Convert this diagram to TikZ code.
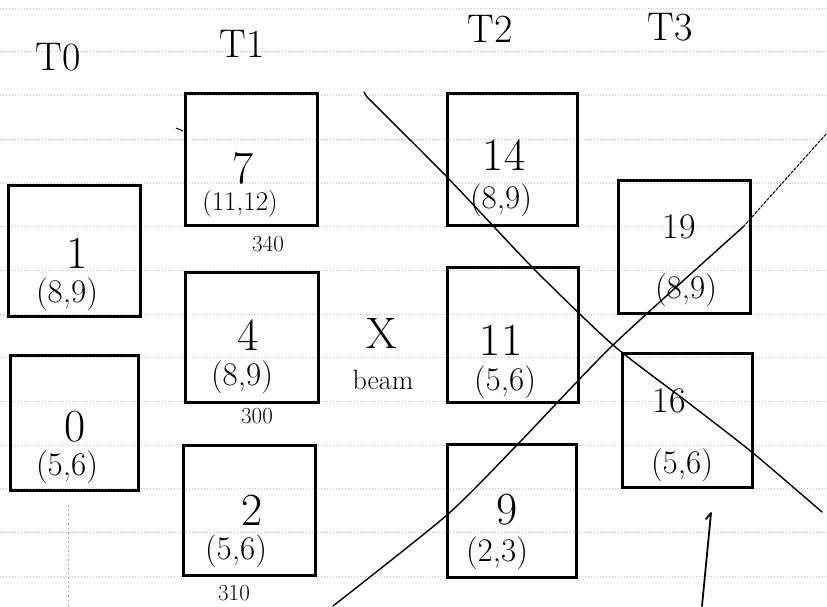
\documentclass[tikz,border=0pt]{standalone}
\begin{document}
\begin{tikzpicture}[x=1pt,y=-1pt,
  rule/.style={draw=black!25, line width=0.5pt, dash pattern=on 1.2pt off 1.8pt},
  cell/.style={draw, line width=3pt, inner sep=0pt},
  num/.style={inner sep=0pt, font=\fontsize{46}{46}\selectfont},
  pair/.style={inner sep=0pt, font=\fontsize{33}{33}\selectfont},
  colhead/.style={inner sep=0pt, font=\fontsize{40}{40}\selectfont},
  note/.style={inner sep=0pt, font=\fontsize{23}{23}\selectfont},
  stroke/.style={line width=1.4pt, line cap=round, line join=round}
]
\useasboundingbox (0,0) rectangle (827,606);
\fill[white] (0,0) rectangle (827,606);
% ruled paper
\foreach \k in {0,...,13} \draw[rule] (0,{8+43.7*\k}) -- (827,{8+43.7*\k});
\draw[black!40, line width=0.8pt, dash pattern=on 1.5pt off 3pt] (68,505) -- (68,606);

% column headings
\node[colhead] (t0) at (58,57) {T0};
\node[colhead] (t1) at (242,44) {T1};
\node[colhead] (t2) at (490,29) {T2};
\node[colhead] (t3) at (670,27) {T3};

% T0 column
\node[cell, minimum width=132pt, minimum height=131pt] (b1) at (74,250.5) {};
\node[num]  (n1) at (77,253) {1};
\node[pair] (p1) at (67,294) {(8,9)};
\node[cell, minimum width=128pt, minimum height=135pt] (b0) at (74,422.5) {};
\node[num]  (n0) at (75,427) {0};
\node[pair] (p0) at (67,467) {(5,6)};

% T1 column
\node[cell, minimum width=132pt, minimum height=132pt] (b7) at (251,159) {};
\node[num]  (n7) at (243,168) {7};
\node[pair, font=\fontsize{27}{27}\selectfont] (p7) at (240,204) {(11,12)};
\node[note] (s7) at (268,244) {340};
\draw[line width=1pt] (176,128) -- (183,131);
\node[cell, minimum width=133pt, minimum height=130pt] (b4) at (251.5,337) {};
\node[num]  (n4) at (248,335) {4};
\node[pair] (p4) at (242,377) {(8,9)};
\node[note] (s4) at (257,416) {300};
\node[cell, minimum width=132pt, minimum height=130pt] (b2) at (249,510) {};
\node[num]  (n2) at (252,510) {2};
\node[pair] (p2) at (236,551) {(5,6)};
\node[note] (s2) at (234,593) {310};

% X beam
\node[inner sep=0pt, font=\fontsize{44}{44}\selectfont] (xm) at (382,333) {X};
\node[inner sep=0pt, font=\fontsize{28}{28}\selectfont] (bm) at (383,380) {beam};

% T2 column
\node[cell, minimum width=130pt, minimum height=132pt] (b14) at (512,159) {};
\node[num]  (n14) at (504,155) {14};
\node[pair] (p14) at (501,200) {(8,9)};
\node[cell, minimum width=131pt, minimum height=135pt] (b11) at (512.5,334.5) {};
\node[num]  (n11) at (501,340) {11};
\node[pair] (p11) at (505,382) {(5,6)};
\node[cell, minimum width=129pt, minimum height=133pt] (b9) at (511.5,510.5) {};
\node[num]  (n9) at (507,510) {9};
\node[pair] (p9) at (497,553) {(2,3)};

% T3 column
\node[cell, minimum width=132pt, minimum height=133pt] (b19) at (684,246.5) {};
\node[num, font=\fontsize{36}{36}\selectfont]  (n19) at (679,227) {19};
\node[pair] (p19) at (686,290) {(8,9)};
\node[cell, minimum width=130pt, minimum height=134pt] (b16) at (687,420) {};
\node[num, font=\fontsize{36}{36}\selectfont]  (n16) at (669,401) {16};
\node[pair] (p16) at (682,465) {(5,6)};

% crossing strokes
\coordinate (c) at (613,345);
\coordinate (l1a) at (367,97);
\coordinate (l1b) at (822,512);
\coordinate (l2a) at (333,606);
\coordinate (l2b) at (827,133);
\draw[stroke] (364,92) -- (l1a);
\draw[stroke] plot[smooth, tension=0.4] coordinates {(l1a) (447,177) (533,268) (c) (690,404) (753,453) (l1b)};
\draw[stroke] plot[smooth, tension=0.4] coordinates {(l2a) (447,515) (517,445) (c) (743,227)};
\draw[stroke, line width=1pt, dash pattern=on 3pt off 1.5pt] (743,227) -- (l2b);

% vertical stroke at bottom right
\coordinate (v1) at (711,513);
\coordinate (v2) at (702,606);
\draw[stroke, line width=1.8pt] (706,519) -- (v1) -- (v2);
\end{tikzpicture}
\end{document}
